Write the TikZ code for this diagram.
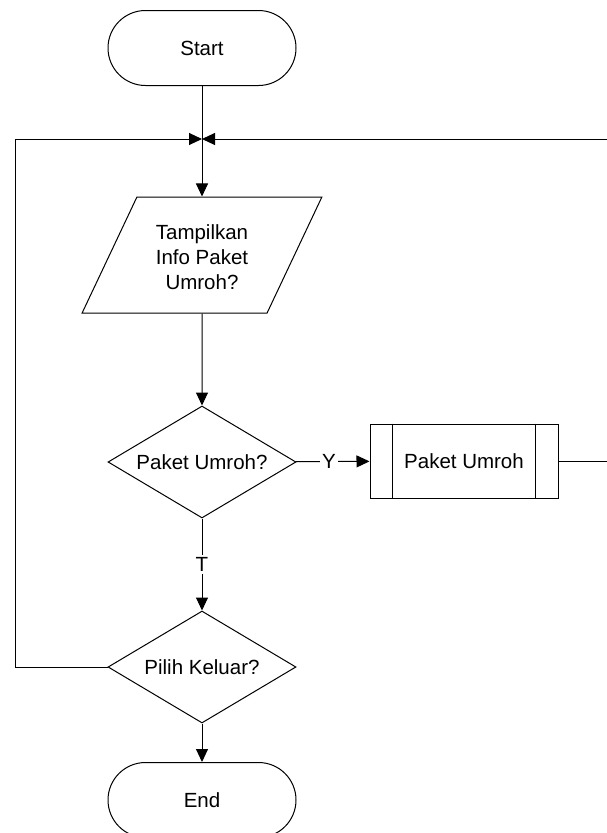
\documentclass[tikz,border=0pt]{standalone}
\usepackage{fontspec}
\setmainfont{Liberation Sans}
\usetikzlibrary{shapes.geometric,shapes.misc,arrows.meta}
\begin{document}
\begin{tikzpicture}[x=1pt,y=-1pt,
  every node/.style={font=\fontsize{20.5}{25}\selectfont, line width=1pt},
  term/.style={draw, rounded rectangle, minimum width=188pt, minimum height=75pt, inner sep=0pt},
  decide/.style={draw, diamond, minimum width=188pt, minimum height=112pt, inner sep=0pt, shape aspect=1.68},
  io/.style={draw, trapezium, trapezium left angle=62.6, trapezium right angle=117.4, trapezium stretches=true, minimum width=240pt, minimum height=116pt, inner sep=0pt},
  proc/.style={draw, rectangle, minimum width=188pt, minimum height=74pt, inner sep=0pt},
  conn/.style={line width=1pt, draw=black},
  arr/.style={conn, -{Triangle[length=13pt,width=12pt]}},
  lbl/.style={fill=white, inner sep=2pt}
]
\useasboundingbox (0,0) rectangle (606,833);
\node[term] (start) at (202,48) {Start};
\coordinate (join) at (202,139);
\node[io] (info) at (202,255) {\raisebox{-4pt}[\height][\depth]{\begin{tabular}{@{}c@{}}Tampilkan\\Info Paket\\Umroh?\end{tabular}}};
\node[decide] (d1) at (202,462) {Paket Umroh?};
\node[proc] (pk) at (464,461) {Paket Umroh};
\draw[line width=1pt] ([xshift=23pt]pk.north west) -- ([xshift=23pt]pk.south west);
\draw[line width=1pt] ([xshift=-23pt]pk.north east) -- ([xshift=-23pt]pk.south east);
\node[decide] (d2) at (202,667) {Pilih Keluar?};
\node[term] (end) at (202,800) {End};
\coordinate (lc) at (15,139);
\coordinate (rc) at (620,139);

\draw[conn] (start) -- (join);
\draw[arr] (join) -- (info);
\draw[arr] (info) -- (d1);
\draw[arr] (d1) -- node[lbl, pos=0.45]{Y} (pk);
\draw[arr] (d1) -- node[lbl, pos=0.5]{T} (d2);
\draw[arr] (d2) -- (end);
\draw[arr] (d2.west) -| (lc) -- (join);
\draw[arr] (pk.east) -| (rc) -- (join);
\end{tikzpicture}
\end{document}
